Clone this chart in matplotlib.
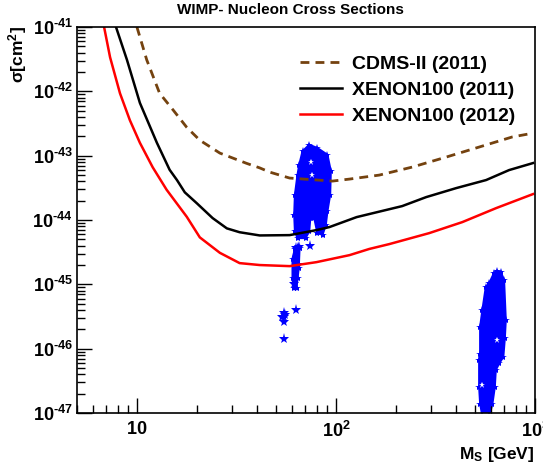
import numpy as np
import matplotlib
matplotlib.use("Agg")
import matplotlib.pyplot as plt

plt.rcParams['font.family'] = ['Liberation Sans', 'DejaVu Sans']
plt.rcParams['mathtext.fontset'] = 'custom'
plt.rcParams['mathtext.rm'] = 'Liberation Sans:bold'
plt.rcParams['mathtext.it'] = 'Liberation Sans:bold'
plt.rcParams['mathtext.bf'] = 'Liberation Sans:bold'

# limit curves (mass in GeV, log10 sigma in cm^2)
cdms_m = [10.0, 11.2, 13.0, 15.2, 17.8, 20.7, 26.1, 35.6, 41.4, 46.4, 58.5, 96, 117, 165, 242, 358, 524, 767, 977]
cdms_s = [-41, -41.51, -42.03, -42.29, -42.56, -42.76, -42.96, -43.12, -43.19, -43.255, -43.348, -43.395,
          -43.364, -43.302, -43.177, -43.022, -42.866, -42.71, -42.65]

x11_m = [7.85, 8.91, 10.35, 12.6, 14.6, 15.9, 17.4, 20.0, 24.0, 28.3, 32.8, 41.4, 58.5, 79.8, 92.7,
         127, 215, 284, 402, 568, 741, 977]
x11_s = [-41, -41.51, -42.18, -42.8, -43.22, -43.38, -43.57, -43.74, -43.97, -44.13, -44.19, -44.24,
         -44.235, -44.157, -44.11, -43.955, -43.784, -43.644, -43.504, -43.379, -43.224, -43.115]

x12_m = [6.84, 7.33, 8.22, 9.22, 10.35, 12.0, 14.1, 17.8, 20.7, 26.1, 32.8, 41.4, 58.5, 79.8, 117,
         147, 185, 294, 431, 638, 977]
x12_s = [-41, -41.47, -42.03, -42.45, -42.8, -43.18, -43.53, -43.95, -44.27, -44.51, -44.67, -44.70,
         -44.717, -44.655, -44.546, -44.45, -44.375, -44.204, -44.033, -43.815, -43.597]

# scan points: outlines of the dense regions
blob1_m = [73.4, 80.7, 90.6, 94.2, 93.5, 90.6, 88.9, 85.6, 80.7, 77.8, 74.3, 73.4, 70.3, 64.1, 62.2,
           61.7, 62.2, 64.1, 65.4, 67.9]
blob1_s = [-42.83, -42.882, -42.986, -43.24, -43.608, -43.862, -44.075, -44.23, -44.204, -43.97, -43.97,
           -44.177, -44.281, -44.281, -44.177, -43.919, -43.608, -43.297, -43.141, -42.933]

tail_m = [64.1, 65.6, 65.0, 64.1, 63.4, 61.2, 60.5, 60.5, 62.2]
tail_s = [-44.40, -44.44, -44.75, -44.9, -45.05, -45.05, -44.9, -44.6, -44.45]

blob2_m = [647, 673, 699, 713, 705, 693, 660, 635, 628, 611, 588, 544, 530, 524, 524, 530, 530, 544, 566, 588, 623]
blob2_s = [-44.79, -44.806, -44.935, -45.557, -45.841, -46.128, -46.23, -46.334, -46.594, -46.853, -47.05,
           -47.05, -46.853, -46.594, -46.179, -46.075, -45.661, -45.401, -45.039, -44.986, -44.821]

# isolated scan points
iso_m = [74.3, 65.0, 62.7, 54.6, 54.6, 54.6, 55.5, 53.8, 54.6, 63.0, 61.5, 64.5]
iso_s = [-44.406, -44.426, -45.40, -45.443, -45.515, -45.583, -45.47, -45.50, -45.857, -44.43, -45.0, -44.7]

# small holes in the dense regions
hole_m = [544, 647, 76.0, 75.0]
hole_s = [-46.57, -45.86, -43.3, -43.1]

fig = plt.figure(figsize=(5.43, 4.67), dpi=100)
ax = fig.add_axes([0.1418, 0.1156, 0.8435, 0.8266])

blue = '#0000ff'
for bm, bs in [(blob1_m, blob1_s), (tail_m, tail_s), (blob2_m, blob2_s)]:
    ax.fill(bm, 10.0**np.array(bs), color=blue, lw=1.5)
    ax.plot(bm, 10.0**np.array(bs), '*', color=blue, ms=6, mew=0)
ax.plot(iso_m, 10.0**np.array(iso_s), '*', color=blue, ms=8, mew=0, ls='none')
ax.plot(hole_m, 10.0**np.array(hole_s), '*', color='white', ms=5, mew=0, ls='none')

ax.plot(cdms_m, 10.0**np.array(cdms_s), color='#74420f', lw=2, ls=(0, (3.2, 2.2)), label='CDMS-II (2011)')
ax.plot(x11_m, 10.0**np.array(x11_s), color='black', lw=1.8, label='XENON100 (2011)')
ax.plot(x12_m, 10.0**np.array(x12_s), color='#ff0000', lw=1.8, label='XENON100 (2012)')

ax.set_xscale('log')
ax.set_yscale('log')
ax.set_xlim(5, 1000)
ax.set_ylim(1e-47, 1e-41)

ax.set_xticks([10, 100, 1000])
ax.set_xticklabels([r'$10$', r'$10^{2}$', r'$10^{3}$'])
ax.set_yticks([10.0**e for e in range(-47, -40)])
ax.set_yticklabels([r'$10^{\text{-}%d}$' % -e for e in range(-47, -40)])
ax.tick_params(which='both', direction='in', top=False, right=False, labelsize=13)
ax.tick_params(which='major', length=11, width=1)
ax.tick_params(which='minor', length=6, width=1)
ax.tick_params(axis='y', pad=3)
ax.tick_params(axis='x', pad=6)
for s in ax.spines.values():
    s.set_linewidth(1.2)

fig.text(290 / 543, 1 - 10 / 467, 'WIMP- Nucleon Cross Sections', fontsize=11, fontweight='bold',
         ha='center', va='center')
fig.text(0.012, 0.945, r'$\sigma$[cm$^{2}$]', rotation=90, fontsize=12.5, fontweight='bold',
         ha='left', va='top')
fig.text(0.985, 0.006, r'M$_{S}$ [GeV]', fontsize=12.5, fontweight='bold', ha='right', va='bottom')

leg = ax.legend(loc='center left', bbox_to_anchor=(300 / 543, 1 - 90 / 467), bbox_transform=fig.transFigure,
                frameon=False, prop={'weight': 'bold', 'size': 14}, handlelength=2.15, handletextpad=0.5,
                labelspacing=0.42, borderpad=0, borderaxespad=0)

fig.savefig('out.png', dpi=100)
